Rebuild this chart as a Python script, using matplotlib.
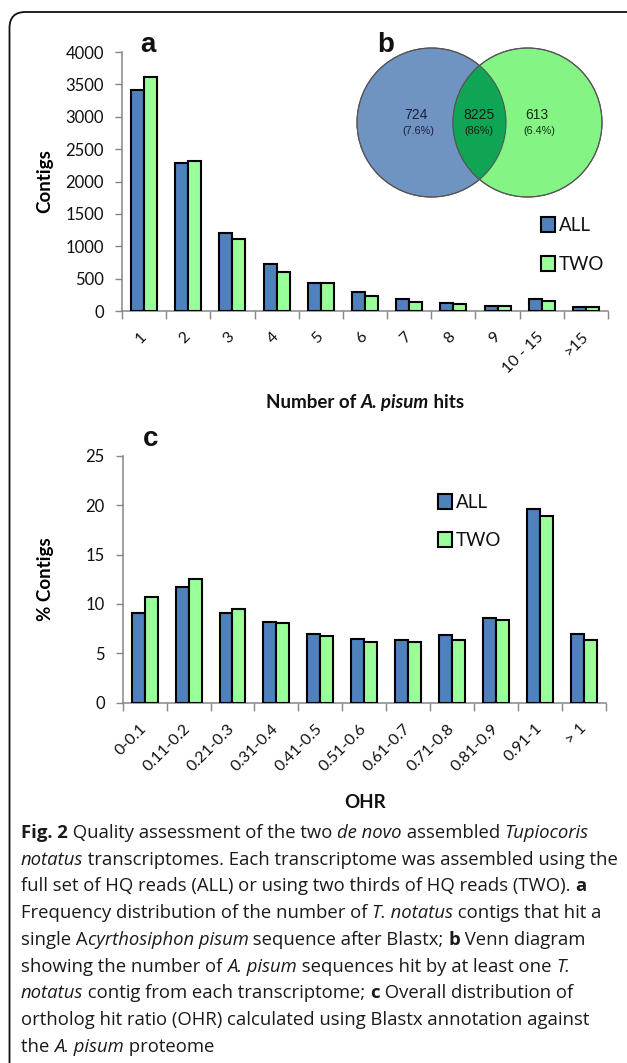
import numpy as np
import matplotlib
matplotlib.use("Agg")
import matplotlib.pyplot as plt
from matplotlib.patches import Circle, Rectangle, FancyBboxPatch

# ---------------- data ----------------
hits_categories = ["1", "2", "3", "4", "5", "6", "7", "8", "9", "10 - 15", ">15"]
hits_all = [3420, 2290, 1210, 720, 440, 290, 180, 130, 80, 180, 65]
hits_two = [3620, 2310, 1115, 605, 432, 236, 140, 115, 80, 150, 55]
hits_yticks = [0, 500, 1000, 1500, 2000, 2500, 3000, 3500, 4000]

ohr_categories = ["0-0.1", "0.11-0.2", "0.21-0.3", "0.31-0.4", "0.41-0.5", "0.51-0.6",
                  "0.61-0.7", "0.71-0.8", "0.81-0.9", "0.91-1", "> 1"]
ohr_all = [9.1, 11.7, 9.1, 8.15, 7.0, 6.45, 6.3, 6.85, 8.55, 19.6, 7.0]
ohr_two = [10.65, 12.5, 9.5, 8.1, 6.75, 6.15, 6.15, 6.35, 8.4, 18.9, 6.35]
ohr_yticks = [0, 5, 10, 15, 20, 25]

venn_counts = ["724", "8225", "613"]
venn_pcts = ["(7.6%)", "(86%)", "(6.4%)"]
series_names = ["ALL", "TWO"]

C_ALL = "#4F81BD"
C_TWO = "#99FF99"
GRAY = "#868686"
FONT = ["Lato", "DejaVu Sans"]

W, H = 627, 1063
fig = plt.figure(figsize=(W / 100, H / 100), dpi=100)

# overlay axes in pixel coordinates (for border, venn, legends, caption)
ov = fig.add_axes([0, 0, 1, 1], zorder=-1)
ov.set_xlim(0, W)
ov.set_ylim(H, 0)
ov.axis("off")

border = FancyBboxPatch((9.5, 12), 700, 1200, boxstyle="round,pad=0,rounding_size=16",
                        fill=False, edgecolor="#111111", linewidth=1.3)
ov.add_patch(border)


def px_axes(x0, y_top, x1, y_bot):
    return fig.add_axes([x0 / W, 1 - y_bot / H, (x1 - x0) / W, (y_bot - y_top) / H])


def bar_panel(ax, cats, a, b, yticks, ylabel):
    x = np.arange(len(cats))
    bw = 0.295
    ax.bar(x - bw / 2, a, bw, color=C_ALL, edgecolor="black", linewidth=1.5, zorder=3)
    ax.bar(x + bw / 2, b, bw, color=C_TWO, edgecolor="black", linewidth=1.5, zorder=3)
    ax.set_xlim(-0.5, len(cats) - 0.5)
    ax.set_ylim(yticks[0], yticks[-1])
    ax.set_yticks(yticks)
    ax.set_yticklabels([str(t) for t in yticks], family=FONT, fontsize=12, color="#111111")
    ax.set_xticks(x)
    ax.set_xticklabels(cats, rotation=45, ha="right", va="center", rotation_mode="anchor",
                       family=FONT, fontsize=11.5, color="#111111")
    ax.set_xticks(np.arange(-0.5, len(cats), 1), minor=True)
    ax.tick_params(axis="x", which="major", length=0, pad=17)
    ax.tick_params(axis="x", which="minor", length=5.5, color=GRAY, width=1, direction="out")
    ax.tick_params(axis="y", which="major", length=5, color=GRAY, width=1, direction="out", pad=8)
    for s in ["top", "right"]:
        ax.spines[s].set_visible(False)
    for s in ["left", "bottom"]:
        ax.spines[s].set_color(GRAY)
        ax.spines[s].set_linewidth(1.1)
    ax.set_facecolor("none")
    ax.set_ylabel(ylabel, family=FONT, fontsize=13.5, fontweight="bold", labelpad=10)


# ---------------- panel a ----------------
ax1 = px_axes(122, 52, 608, 311)
bar_panel(ax1, hits_categories, hits_all, hits_two, hits_yticks, "Contigs")
ax1.yaxis.set_label_coords(-0.142, 0.5)

# ---------------- panel c ----------------
ax3 = px_axes(122.7, 455.7, 605.7, 702.7)
bar_panel(ax3, ohr_categories, ohr_all, ohr_two, ohr_yticks, "% Contigs")
ax3.yaxis.set_label_coords(-0.142, 0.5)

# ---------------- panel letters ----------------
for txt, x, y in [("a", 140, 52), ("b", 377, 52), ("c", 143, 446)]:
    ov.text(x, y, txt, family=["Liberation Sans", "DejaVu Sans"], fontweight="bold",
            fontsize=20, ha="left", va="baseline", color="#111111")

# ---------------- venn ----------------
r = 74.5
cy = 122.5
cl, cr = 431.5, 527.5
ov.add_patch(Circle((cl, cy), r, facecolor="#7094C2", edgecolor="#555555", linewidth=0.8, zorder=1))
ov.add_patch(Circle((cr, cy), r, facecolor="#84F584", edgecolor="#555555", linewidth=0.8, zorder=1))
clip_c = Circle((cr, cy), r, transform=ov.transData)
inter = Circle((cl, cy), r, facecolor="#10A455", edgecolor="none", zorder=2)
ov.add_patch(inter)
inter.set_clip_path(clip_c)
ov.add_patch(Circle((cl, cy), r, facecolor="none", edgecolor="#555555", linewidth=0.8, zorder=3))
ov.add_patch(Circle((cr, cy), r, facecolor="none", edgecolor="#555555", linewidth=0.8, zorder=3))
vx = [416, 478.5, 537]
vpx = [418, 478.5, 539]
vcol = ["#1b1f3a", "#0d1f12", "#10300f"]
for i in range(3):
    ov.text(vx[i], 115, venn_counts[i], ha="center", va="center", fontsize=10,
            family=["Liberation Sans", "DejaVu Sans"], color=vcol[i], zorder=4)
    ov.text(vpx[i], 131.5, venn_pcts[i], ha="center", va="center", fontsize=7.8,
            family=["Liberation Sans", "DejaVu Sans"], color=vcol[i], zorder=4)

# ---------------- legends ----------------
def legend(x, y0, dy):
    for i, (name, col) in enumerate(zip(series_names, [C_ALL, C_TWO])):
        yy = y0 + i * dy
        ov.add_patch(Rectangle((x, yy - 7.5), 14, 15, facecolor=col, edgecolor="black",
                               linewidth=1.5, zorder=5))
        ov.text(x + 18, yy + 1, name, family=FONT, fontsize=13.5, ha="left", va="center",
                color="#111111", zorder=5)


legend(541, 224.5, 38.5)
legend(437.5, 501, 38)

# ---------------- rich text helper ----------------
renderer = fig.canvas.get_renderer()
STY = {"r": dict(weight="normal", style="normal"),
       "i": dict(weight="normal", style="italic"),
       "b": dict(weight="bold", style="normal"),
       "bi": dict(weight="bold", style="italic")}


def seg_width(text, fam, size, st):
    t1 = ov.text(0, 0, text + "|", family=fam, fontsize=size, fontweight=STY[st]["weight"],
                 fontstyle=STY[st]["style"])
    t2 = ov.text(0, 0, "|", family=fam, fontsize=size, fontweight=STY[st]["weight"],
                 fontstyle=STY[st]["style"])
    w = t1.get_window_extent(renderer).width - t2.get_window_extent(renderer).width
    t1.remove()
    t2.remove()
    return w


def rich(x, y, segs, fam, size, ha="left", color="#1a1a1a"):
    widths = [seg_width(t, fam, size, s) for t, s in segs]
    total = sum(widths)
    if ha == "center":
        x = x - total / 2
    for (t, s), w in zip(segs, widths):
        ov.text(x, y, t, family=fam, fontsize=size, fontweight=STY[s]["weight"],
                fontstyle=STY[s]["style"], ha="left", va="baseline", color=color)
        x += w


# axis titles
rich(365, 408, [("Number of ", "b"), ("A. pisum", "bi"), (" hits", "b")], FONT, 13.5, ha="center",
     color="#111111")
rich(365, 808, [("OHR", "b")], FONT, 13.5, ha="center", color="#111111")

# caption
CAP = ["Open Sans", "DejaVu Sans"]
cap_lines = [
    [("Fig. 2", "b"), (" Quality assessment of the two ", "r"), ("de novo", "i"),
     (" assembled ", "r"), ("Tupiocoris", "i")],
    [("notatus", "i"), (" transcriptomes. Each transcriptome was assembled using the", "r")],
    [("full set of HQ reads (ALL) or using two thirds of HQ reads (TWO). ", "r"), ("a", "b")],
    [("Frequency distribution of the number of ", "r"), ("T. notatus", "i"),
     (" contigs that hit a", "r")],
    [("single A", "r"), ("cyrthosiphon pisum", "i"), (" sequence after Blastx; ", "r"),
     ("b", "b"), (" Venn diagram", "r")],
    [("showing the number of ", "r"), ("A. pisum", "i"),
     (" sequences hit by at least one ", "r"), ("T.", "i")],
    [("notatus", "i"), (" contig from each transcriptome; ", "r"), ("c", "b"),
     (" Overall distribution of", "r")],
    [("ortholog hit ratio (OHR) calculated using Blastx annotation against", "r")],
    [("the ", "r"), ("A. pisum", "i"), (" proteome", "r")],
]
for k, line in enumerate(cap_lines):
    rich(21, 838 + k * 26.7, line, CAP, 13.3)

fig.savefig("out.png", dpi=100)
